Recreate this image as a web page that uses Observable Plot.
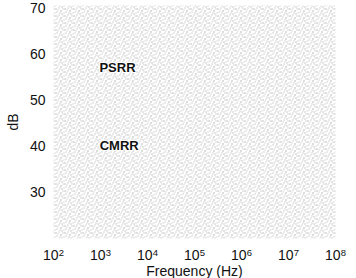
<!DOCTYPE html>
<html><head><meta charset="utf-8">
<script src="https://cdn.jsdelivr.net/npm/d3@7"></script>
<script src="https://cdn.jsdelivr.net/npm/@observablehq/plot@0.6"></script>
<style>
body{margin:0;background:#fff}
svg text{font-family:"Liberation Sans",Arial,sans-serif;fill:#111}
svg g.tick-lbl text{font-size:14px}
svg g.ax-lbl text{font-size:14px}
</style>
</head><body><div id="chart"></div>
<script>
const xTicks = [1e2, 1e3, 1e4, 1e5, 1e6, 1e7, 1e8];
const yTicks = [30, 40, 50, 60, 70];
const labelNames = ["PSRR", "CMRR"];
const labelFreq = [2300, 2500];
const labelDb = [57, 40.2];
const labels = labelNames.map((n, i) => ({name: n, f: labelFreq[i], db: labelDb[i]}));
const fmt = d => "10^" + Math.round(Math.log10(d));

const chart = Plot.plot({
  width: 356, height: 278,
  marginLeft: 53, marginRight: 21, marginTop: 5, marginBottom: 40,
  style: {fontFamily: "Liberation Sans, Arial, sans-serif", fontSize: "13px", color: "#111", background: "#fff"},
  x: {type: "log", domain: [1e2, 1e8]},
  y: {domain: [20, 70.6]},
  marks: [
    Plot.frame({fill: "url(#stipple)", stroke: null}),
    Plot.axisX({ticks: xTicks, tickFormat: fmt, tickSize: 0, tickPadding: 12, label: "Frequency (Hz)", labelAnchor: "center", labelArrow: "none", labelOffset: 37}),
    Plot.axisY({ticks: yTicks, tickSize: 0, tickPadding: 8, label: "dB", labelAnchor: "center", labelArrow: "none", labelOffset: 45}),
    Plot.text(labels, {x: "f", y: "db", text: "name", fontSize: 13, fontWeight: "bold", fill: "#111", stroke: "white", strokeWidth: 2})
  ]
});
const ns = "http://www.w3.org/2000/svg";
chart.querySelectorAll("g[aria-label='x-axis tick label'], g[aria-label='y-axis tick label']").forEach(g => g.classList.add("tick-lbl"));
chart.querySelectorAll("g[aria-label='x-axis label'], g[aria-label='y-axis label']").forEach(g => g.classList.add("ax-lbl"));
chart.querySelectorAll("g[aria-label='x-axis tick label'] text").forEach(t => {
  const [b, e] = t.textContent.split("^");
  t.textContent = b;
  const s = document.createElementNS(ns, "tspan");
  s.setAttribute("dy", "-4");
  s.setAttribute("font-size", "9.5px");
  s.textContent = e;
  t.appendChild(s);
});
const defs = document.createElementNS(ns, "defs");
const pat = document.createElementNS(ns, "pattern");
pat.setAttribute("id", "stipple");
pat.setAttribute("patternUnits", "userSpaceOnUse");
pat.setAttribute("width", "9"); pat.setAttribute("height", "7");
const dots = [[1,1,"#888"],[4,0,"#aaa"],[6,3,"#777"],[2,4,"#aaa"],[7,6,"#999"],[0,5,"#bbb"],[5,5,"#aaa"],[3,2,"#bbb"],[8,1,"#aaa"]];
dots.forEach(([x, y, c]) => {
  const r = document.createElementNS(ns, "rect");
  r.setAttribute("x", x); r.setAttribute("y", y);
  r.setAttribute("width", 1); r.setAttribute("height", 1);
  r.setAttribute("fill", c);
  pat.appendChild(r);
});
defs.appendChild(pat);
chart.insertBefore(defs, chart.firstChild);
document.getElementById("chart").appendChild(chart);
</script>
</body></html>
